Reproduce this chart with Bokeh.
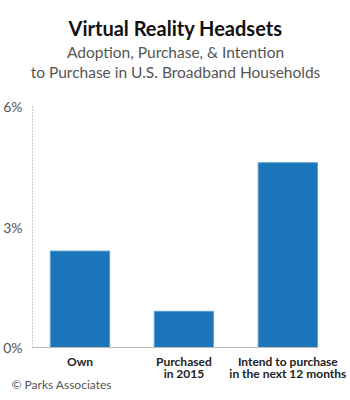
from bokeh.plotting import figure
from bokeh.models import Range1d, FixedTicker, Title
from bokeh.embed import file_html
from bokeh.resources import INLINE

categories = ["Own", "Purchased\nin 2015", "Intend to purchase\nin the next 12 months"]
values = [2.4, 0.9, 4.6]
y_ticks = [0, 3, 6]
y_tick_labels = ["0%", "3%", "6%"]

xs = list(range(len(categories)))

FONT = "Lato"

p = figure(width=350, height=400, output_backend="svg", toolbar_location=None,
           x_range=Range1d(-0.457, 2.295), y_range=Range1d(0, 6),
           min_border_left=29, min_border_right=32, min_border_top=106, min_border_bottom=53)
p.outline_line_color = None
p.grid.grid_line_color = None
p.background_fill_color = "white"
p.border_fill_color = "white"

p.vbar(x=xs, top=values, width=0.571, bottom=0, fill_color="#1a75bb", line_color="#5a9fd6", line_width=1)

p.yaxis.ticker = FixedTicker(ticks=y_ticks)
p.yaxis.major_label_overrides = {t: l for t, l in zip(y_ticks, y_tick_labels)}
p.yaxis.axis_line_color = "#999999"
p.yaxis.axis_line_dash = "1 2"
p.yaxis.major_tick_line_color = None
p.yaxis.minor_tick_line_color = None
p.yaxis.major_label_text_font = FONT
p.yaxis.major_label_text_font_size = "14px"
p.yaxis.major_label_text_color = "#555555"
p.yaxis.major_label_standoff = 4

p.xaxis.ticker = FixedTicker(ticks=xs)
p.xaxis.major_label_overrides = {x: c for x, c in zip(xs, categories)}
p.xaxis.axis_line_color = "#bbbbbb"
p.xaxis.major_tick_line_color = None
p.xaxis.minor_tick_line_color = None
p.xaxis.major_label_text_font = FONT
p.xaxis.major_label_text_font_style = "bold"
p.xaxis.major_label_text_font_size = "12px"
p.xaxis.major_label_text_line_height = 0.85
p.xaxis.major_label_text_color = "#222222"
p.xaxis.major_label_standoff = 0

# titles stacked outward from the frame (first added = closest to frame)
p.add_layout(Title(text=" ", text_font=FONT, text_font_size="20px", standoff=0), "above")
p.add_layout(Title(text="to Purchase in U.S. Broadband Households", align="center", offset=1.5,
                   text_font=FONT, text_font_size="15.5px", text_font_style="normal",
                   text_line_height=0.6, text_color="#555555", standoff=0), "above")
p.add_layout(Title(text="Adoption, Purchase, & Intention", align="center", offset=1.5,
                   text_font=FONT, text_font_size="15.5px", text_font_style="normal",
                   text_line_height=0.9, text_color="#555555", standoff=0), "above")
p.add_layout(Title(text="Virtual Reality Headsets", align="center", offset=1.5,
                   text_font=FONT, text_font_size="20px", text_font_style="bold",
                   text_color="#111111", standoff=2), "above")
p.add_layout(Title(text="© Parks Associates", align="left", offset=-21, vertical_align="top",
                   text_font=FONT, text_font_size="12px", text_font_style="normal",
                   text_color="#555555", standoff=-16), "below")

open("out.html", "w").write(file_html(p, INLINE))
